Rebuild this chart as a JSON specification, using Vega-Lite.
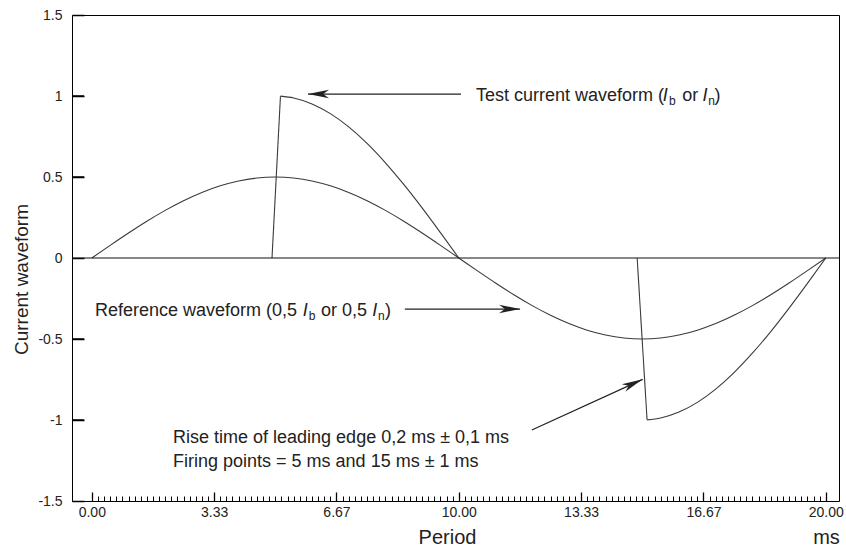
{
  "$schema": "https://vega.github.io/schema/vega-lite/v6.json",
  "width": 767,
  "height": 486,
  "autosize": {"type": "none"},
  "padding": {"left": 72, "top": 15, "right": 7, "bottom": 45},
  "background": "white",
  "config": {
    "view": {"stroke": "#000", "strokeWidth": 1},
    "font": "Liberation Sans",
    "axis": {
      "domain": false, "grid": false, "tickColor": "#000", "tickWidth": 1,
      "labelColor": "#222", "titleColor": "#222",
      "labelFont": "Liberation Sans", "titleFont": "Liberation Sans",
      "titleFontWeight": "normal", "labelFontSize": 14
    }
  },
  "datasets": {
    "w": [
      {"part": "ref", "x": 0, "y": 0}, {"part": "ref", "x": 0.5, "y": 0.0782}, {"part": "ref", "x": 1, "y": 0.1545}, {"part": "ref", "x": 1.5, "y": 0.227}, {"part": "ref", "x": 2, "y": 0.2939}, {"part": "ref", "x": 2.5, "y": 0.3536}, {"part": "ref", "x": 3, "y": 0.4045}, {"part": "ref", "x": 3.5, "y": 0.4455}, {"part": "ref", "x": 4, "y": 0.4755}, {"part": "ref", "x": 4.5, "y": 0.4939}, {"part": "ref", "x": 5, "y": 0.5},
      {"part": "ref", "x": 5.5, "y": 0.4939}, {"part": "ref", "x": 6, "y": 0.4755}, {"part": "ref", "x": 6.5, "y": 0.4455}, {"part": "ref", "x": 7, "y": 0.4045}, {"part": "ref", "x": 7.5, "y": 0.3536}, {"part": "ref", "x": 8, "y": 0.2939}, {"part": "ref", "x": 8.5, "y": 0.227}, {"part": "ref", "x": 9, "y": 0.1545}, {"part": "ref", "x": 9.5, "y": 0.0782}, {"part": "ref", "x": 10, "y": 0},
      {"part": "ref", "x": 10.5, "y": -0.0782}, {"part": "ref", "x": 11, "y": -0.1545}, {"part": "ref", "x": 11.5, "y": -0.227}, {"part": "ref", "x": 12, "y": -0.2939}, {"part": "ref", "x": 12.5, "y": -0.3536}, {"part": "ref", "x": 13, "y": -0.4045}, {"part": "ref", "x": 13.5, "y": -0.4455}, {"part": "ref", "x": 14, "y": -0.4755}, {"part": "ref", "x": 14.5, "y": -0.4939}, {"part": "ref", "x": 15, "y": -0.5},
      {"part": "ref", "x": 15.5, "y": -0.4939}, {"part": "ref", "x": 16, "y": -0.4755}, {"part": "ref", "x": 16.5, "y": -0.4455}, {"part": "ref", "x": 17, "y": -0.4045}, {"part": "ref", "x": 17.5, "y": -0.3536}, {"part": "ref", "x": 18, "y": -0.2939}, {"part": "ref", "x": 18.5, "y": -0.227}, {"part": "ref", "x": 19, "y": -0.1545}, {"part": "ref", "x": 19.5, "y": -0.0782}, {"part": "ref", "x": 20, "y": 0},
      {"part": "pos", "x": 5.14, "y": 0.999}, {"part": "pos", "x": 5.5, "y": 0.9877}, {"part": "pos", "x": 6, "y": 0.9511}, {"part": "pos", "x": 6.5, "y": 0.891}, {"part": "pos", "x": 7, "y": 0.809}, {"part": "pos", "x": 7.5, "y": 0.7071}, {"part": "pos", "x": 8, "y": 0.5878}, {"part": "pos", "x": 8.5, "y": 0.454}, {"part": "pos", "x": 9, "y": 0.309}, {"part": "pos", "x": 9.5, "y": 0.1564}, {"part": "pos", "x": 10, "y": 0},
      {"part": "neg", "x": 15.13, "y": -0.999}, {"part": "neg", "x": 15.5, "y": -0.9877}, {"part": "neg", "x": 16, "y": -0.9511}, {"part": "neg", "x": 16.5, "y": -0.891}, {"part": "neg", "x": 17, "y": -0.809}, {"part": "neg", "x": 17.5, "y": -0.7071}, {"part": "neg", "x": 18, "y": -0.5878}, {"part": "neg", "x": 18.5, "y": -0.454}, {"part": "neg", "x": 19, "y": -0.309}, {"part": "neg", "x": 19.5, "y": -0.1564}, {"part": "neg", "x": 20, "y": 0},
      {"part": "edge1", "x": 4.91, "y": 0}, {"part": "edge1", "x": 5.14, "y": 0.999},
      {"part": "edge2", "x": 14.86, "y": 0}, {"part": "edge2", "x": 15.13, "y": -0.999}
    ],
    "zero": [{"y": 0}],
    "yticks": [{"y": -1}, {"y": -0.5}, {"y": 0.5}, {"y": 1}],
    "arrows": [
      {"x": 10.06, "y": 1.012, "x2": 5.89, "y2": 1.012, "heading": 0},
      {"x": 8.53, "y": -0.315, "x2": 11.67, "y2": -0.315, "heading": 180},
      {"x": 11.99, "y": -1.062, "x2": 15.01, "y2": -0.749, "heading": 155.5}
    ],
    "txt": [
      {"x": 10.466, "y": 0.969, "t": "Test current waveform ("},
      {"x": 16.09, "y": 0.969, "t": "or"},
      {"x": 16.97, "y": 0.969, "t": ")"},
      {"x": 0.0872, "y": -0.358, "t": "Reference waveform (0,5"},
      {"x": 6.245, "y": -0.358, "t": "or 0,5"},
      {"x": 7.989, "y": -0.358, "t": ")"},
      {"x": 2.213, "y": -1.142, "t": "Rise time of leading edge 0,2 ms ± 0,1 ms"},
      {"x": 2.213, "y": -1.29, "t": "Firing points = 5 ms and 15 ms ± 1 ms"}
    ],
    "ital": [
      {"x": 15.56, "y": 0.969, "t": "I"},
      {"x": 16.64, "y": 0.969, "t": "I"},
      {"x": 5.75, "y": -0.358, "t": "I"},
      {"x": 7.64, "y": -0.358, "t": "I"}
    ],
    "sub": [
      {"x": 15.73, "y": 0.944, "t": "b"},
      {"x": 16.8, "y": 0.944, "t": "n"},
      {"x": 5.91, "y": -0.383, "t": "b"},
      {"x": 7.795, "y": -0.383, "t": "n"}
    ]
  },
  "layer": [
    {
      "data": {"name": "w"},
      "transform": [{"filter": "datum.part == 'ref' || datum.part == 'pos' || datum.part == 'neg'"}],
      "mark": {"type": "line", "interpolate": "monotone", "color": "#3a3a3a", "strokeWidth": 1.1},
      "encoding": {
        "x": {
          "field": "x", "type": "quantitative",
          "scale": {"domain": [-0.54, 20.36], "nice": false, "zero": false},
          "axis": {
            "orient": "bottom",
            "values": [0, 3.3333333, 6.6666667, 10, 13.3333333, 16.6666667, 20],
            "format": ".2f", "tickSize": -9, "tickWidth": 1.3, "labelPadding": 13, "labelFlush": false,
            "title": "Period", "titleFontSize": 20, "titleX": 375, "titleY": 36,
            "titleBaseline": "middle", "titleAlign": "center"
          }
        },
        "y": {
          "field": "y", "type": "quantitative",
          "scale": {"domain": [-1.5, 1.5], "nice": false, "zero": false},
          "axis": {
            "orient": "left", "offset": -12,
            "values": [-1.5, -1, -0.5, 0, 0.5, 1, 1.5],
            "ticks": true, "tickSize": 12, "tickColor": "#000", "tickWidth": 1.5, "labelPadding": 10,
            "labelExpr": "replace(format(datum.value, '~g'), '\u2212', '-')",
            "title": "Current waveform", "titleFontSize": 19, "titleAngle": -90,
            "titleX": -63, "titleY": 264, "titleBaseline": "middle", "titleAlign": "center"
          }
        },
        "detail": {"field": "part"}
      }
    },
    {
      "data": {"name": "w"},
      "transform": [{"filter": "datum.part == 'edge1' || datum.part == 'edge2'"}],
      "mark": {"type": "line", "interpolate": "linear", "color": "#3a3a3a", "strokeWidth": 1.1},
      "encoding": {
        "x": {"field": "x", "type": "quantitative", "scale": {"domain": [-0.54, 20.36], "nice": false, "zero": false}, "axis": null},
        "y": {"field": "y", "type": "quantitative", "scale": {"domain": [-1.5, 1.5], "nice": false, "zero": false}, "axis": null},
        "detail": {"field": "part"}
      }
    },
    {
      "data": {"name": "zero"},
      "mark": {"type": "rule", "color": "#111", "strokeWidth": 1},
      "encoding": {
        "y": {"field": "y", "type": "quantitative", "scale": {"domain": [-1.5, 1.5], "nice": false, "zero": false}, "axis": null}
      }
    },
    {
      "data": {"name": "yticks"},
      "mark": {"type": "rule", "color": "#000", "strokeWidth": 1.5},
      "encoding": {
        "x": {"datum": -0.54, "type": "quantitative", "scale": {"domain": [-0.54, 20.36], "nice": false, "zero": false}, "axis": null},
        "x2": {"datum": -0.21},
        "y": {"field": "y", "type": "quantitative", "scale": {"domain": [-1.5, 1.5], "nice": false, "zero": false}, "axis": null}
      }
    },
    {
      "data": {"name": "arrows"},
      "mark": {"type": "rule", "color": "#222", "strokeWidth": 1.2},
      "encoding": {
        "x": {
          "field": "x", "type": "quantitative",
          "scale": {"domain": [-0.54, 20.36], "nice": false, "zero": false},
          "axis": {
            "orient": "bottom", "labels": false, "tickSize": -5,
            "values": [0,0.1667,0.3333,0.5,0.6667,0.8333,1,1.1667,1.3333,1.5,1.6667,1.8333,2,2.1667,2.3333,2.5,2.6667,2.8333,3,3.1667,3.3333,3.5,3.6667,3.8333,4,4.1667,4.3333,4.5,4.6667,4.8333,5,5.1667,5.3333,5.5,5.6667,5.8333,6,6.1667,6.3333,6.5,6.6667,6.8333,7,7.1667,7.3333,7.5,7.6667,7.8333,8,8.1667,8.3333,8.5,8.6667,8.8333,9,9.1667,9.3333,9.5,9.6667,9.8333,10,10.1667,10.3333,10.5,10.6667,10.8333,11,11.1667,11.3333,11.5,11.6667,11.8333,12,12.1667,12.3333,12.5,12.6667,12.8333,13,13.1667,13.3333,13.5,13.6667,13.8333,14,14.1667,14.3333,14.5,14.6667,14.8333,15,15.1667,15.3333,15.5,15.6667,15.8333,16,16.1667,16.3333,16.5,16.6667,16.8333,17,17.1667,17.3333,17.5,17.6667,17.8333,18,18.1667,18.3333,18.5,18.6667,18.8333,19,19.1667,19.3333,19.5,19.6667,19.8333,20],
            "title": "ms", "titleFontSize": 20, "titleX": 754, "titleY": 36,
            "titleBaseline": "middle", "titleAlign": "center"
          }
        },
        "y": {"field": "y", "type": "quantitative", "scale": {"domain": [-1.5, 1.5], "nice": false, "zero": false}, "axis": null},
        "x2": {"field": "x2"},
        "y2": {"field": "y2"}
      }
    },
    {
      "data": {"name": "arrows"},
      "mark": {"type": "point", "shape": "M0,0L2,-0.4L1.45,0L2,0.4Z", "filled": true, "color": "#222", "opacity": 1, "size": 441, "strokeWidth": 0},
      "encoding": {
        "x": {"field": "x2", "type": "quantitative", "scale": {"domain": [-0.54, 20.36], "nice": false, "zero": false}, "axis": null},
        "y": {"field": "y2", "type": "quantitative", "scale": {"domain": [-1.5, 1.5], "nice": false, "zero": false}, "axis": null},
        "angle": {"field": "heading", "type": "quantitative", "scale": null}
      }
    },
    {
      "data": {"name": "txt"},
      "mark": {"type": "text", "align": "left", "baseline": "alphabetic", "font": "Liberation Sans", "fontSize": 18, "color": "#222"},
      "encoding": {
        "x": {"field": "x", "type": "quantitative", "scale": {"domain": [-0.54, 20.36], "nice": false, "zero": false}, "axis": null},
        "y": {"field": "y", "type": "quantitative", "scale": {"domain": [-1.5, 1.5], "nice": false, "zero": false}, "axis": null},
        "text": {"field": "t"}
      }
    },
    {
      "data": {"name": "ital"},
      "mark": {"type": "text", "align": "left", "baseline": "alphabetic", "font": "Liberation Sans", "fontSize": 18, "fontStyle": "italic", "color": "#222"},
      "encoding": {
        "x": {"field": "x", "type": "quantitative", "scale": {"domain": [-0.54, 20.36], "nice": false, "zero": false}, "axis": null},
        "y": {"field": "y", "type": "quantitative", "scale": {"domain": [-1.5, 1.5], "nice": false, "zero": false}, "axis": null},
        "text": {"field": "t"}
      }
    },
    {
      "data": {"name": "sub"},
      "mark": {"type": "text", "align": "left", "baseline": "alphabetic", "font": "Liberation Sans", "fontSize": 12, "color": "#222"},
      "encoding": {
        "x": {"field": "x", "type": "quantitative", "scale": {"domain": [-0.54, 20.36], "nice": false, "zero": false}, "axis": null},
        "y": {"field": "y", "type": "quantitative", "scale": {"domain": [-1.5, 1.5], "nice": false, "zero": false}, "axis": null},
        "text": {"field": "t"}
      }
    }
  ],
  "resolve": {"axis": {"x": "independent", "y": "independent"}}
}
